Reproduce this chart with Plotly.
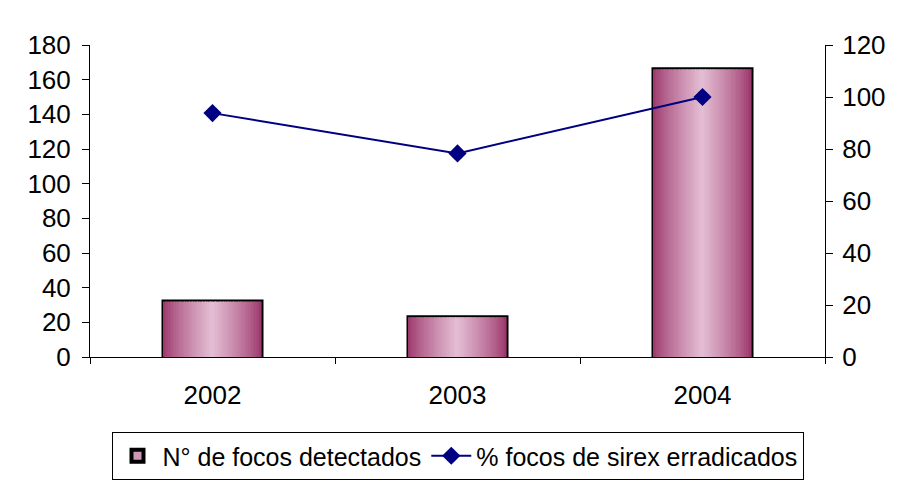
import plotly.graph_objects as go

years = ["2002", "2003", "2004"]
focos_detectados = [32, 23, 166]
pct_erradicados = [93.8, 78.3, 100]

bar_name = "N° de focos detectados"
line_name = "% focos de sirex erradicados"

dark = (155, 52, 105)
light = (228, 190, 212)
n_strips = 60
bar_width = 0.4

fig = go.Figure()

# outline bar (drawn below strips; its visible edge forms the border)
fig.add_trace(go.Bar(
    x=years, y=focos_detectados, name=bar_name, width=bar_width,
    marker=dict(color="rgb(205,150,180)", line=dict(color="black", width=4)),
    showlegend=True, hoverinfo="skip",
))

for i in range(n_strips):
    t = (i + 0.5) / n_strips
    f = 1 - abs(2 * t - 1)  # 0 at edges, 1 at center
    f = f ** 0.8
    c = tuple(int(round(dark[k] + (light[k] - dark[k]) * f)) for k in range(3))
    fig.add_trace(go.Bar(
        x=years, y=focos_detectados, width=bar_width / n_strips * 1.05,
        offset=-bar_width / 2 + i * bar_width / n_strips,
        marker=dict(color="rgb(%d,%d,%d)" % c, line=dict(width=0)),
        showlegend=False, hoverinfo="skip",
    ))

fig.add_trace(go.Scatter(
    x=years, y=pct_erradicados, name=line_name, yaxis="y2",
    mode="lines+markers",
    line=dict(color="#000080", width=2),
    marker=dict(symbol="diamond", size=14, color="#000080"),
))

font = dict(family="Liberation Sans, Arial, sans-serif", size=26, color="black")
legend_font = dict(family="Liberation Sans, Arial, sans-serif", size=25, color="black")

fig.update_layout(
    width=900, height=483,
    margin=dict(l=90, r=75, t=45, b=126, autoexpand=False),
    paper_bgcolor="white", plot_bgcolor="white",
    barmode="overlay",
    font=font,
    xaxis=dict(showline=True, linecolor="black", linewidth=1,
               ticks="outside", tickson="boundaries", ticklen=6,
               tickcolor="black", showgrid=False, mirror=False,
               ticklabelstandoff=15, automargin=False),
    yaxis=dict(range=[0, 180], dtick=20, showline=True, linecolor="black",
               ticks="outside", ticklen=7, tickcolor="black", showgrid=False,
               zeroline=False, ticklabelstandoff=6, automargin=False),
    yaxis2=dict(range=[0, 120], dtick=20, overlaying="y", side="right",
                showline=True, linecolor="black", ticks="outside", ticklen=7,
                tickcolor="black", showgrid=False, zeroline=False,
                ticklabelstandoff=4, automargin=False),
    legend=dict(orientation="h", x=0.5, xanchor="center",
                yref="container", y=(483 - 432) / 483,
                yanchor="top", bordercolor="black", borderwidth=1,
                font=legend_font, bgcolor="white", itemwidth=40,
                tracegroupgap=0),
    showlegend=True,
)

fig.write_html("out.html", config={"displayModeBar": False},
               post_script="document.body.style.margin='0';document.body.style.padding='0';")
